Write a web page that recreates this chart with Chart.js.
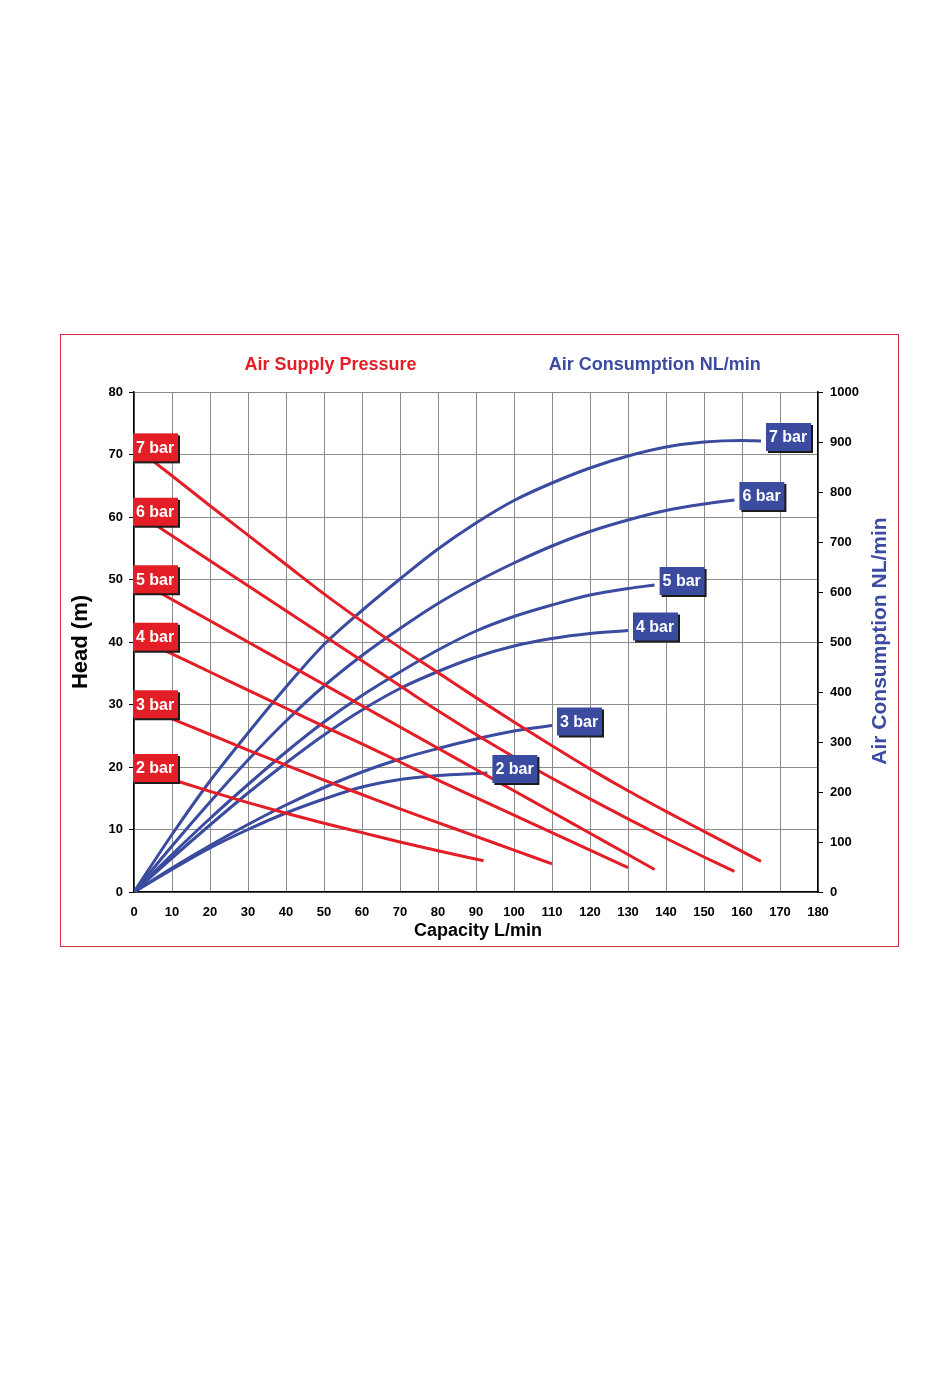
<!DOCTYPE html>
<html><head><meta charset="utf-8">
<script src="https://cdn.jsdelivr.net/npm/chart.js@4.4.1/dist/chart.umd.min.js"></script>
<style>html,body{margin:0;padding:0;background:#fff;}#wrap{position:absolute;left:0;top:0;width:950px;height:1384px;}</style>
</head><body><div id="wrap"><canvas id="c" width="950" height="1384"></canvas></div>
<script>
// ---- data ----
const pressureLabels = ['7 bar','6 bar','5 bar','4 bar','3 bar','2 bar'];
const xTickValues = [0,10,20,30,40,50,60,70,80,90,100,110,120,130,140,150,160,170,180];
const headTicks = [0,10,20,30,40,50,60,70,80];
const airTicks = [0,100,200,300,400,500,600,700,800,900,1000];

// Head (m) vs capacity (L/min)
const head7X = [0,10,20,30,40,50,60,70,80,90,100,110,120,130,140,150,160,165];
const head7  = [71.3,66.6,61.8,57.1,52.4,47.7,43.3,39.1,35.1,31.1,27.2,23.4,19.7,16.2,12.9,9.7,6.5,4.9];
const head6X = [0,10,20,30,40,50,60,70,80,90,100,110,120,130,140,150,158];
const head6  = [61.0,57.0,53.0,49.0,45.0,41.0,37.0,33.0,29.0,25.2,21.6,18.2,14.9,11.7,8.6,5.6,3.3];
const head5X = [0,10,20,30,40,50,60,70,80,90,100,110,120,130,137];
const head5  = [50.2,46.8,43.4,40.0,36.6,33.2,29.8,26.4,23.0,19.6,16.2,12.8,9.4,6.0,3.6];
const head4X = [0,10,20,30,40,50,60,70,80,90,100,110,120,130];
const head4  = [41.0,38.1,35.2,32.3,29.4,26.5,23.7,20.8,17.9,15.1,12.3,9.5,6.7,3.9];
const head3X = [0,10,20,30,40,50,60,70,80,90,100,110];
const head3  = [30.2,27.7,25.2,22.7,20.3,17.9,15.6,13.3,11.1,8.9,6.7,4.5];
const head2X = [0,10,20,30,40,50,60,70,80,92];
const head2  = [20.0,18.0,16.1,14.3,12.6,11.0,9.5,8.0,6.6,5.0];

// Air consumption (NL/min) vs capacity (L/min)
const air7X = [0,10,20,30,40,50,60,70,80,90,100,110,120,130,140,150,160,165];
const air7  = [0,115,222,318,410,495,563,626,686,738,783,818,848,872,890,900,903,902];
const air6X = [0,10,20,30,40,50,60,70,80,90,100,110,120,130,140,150,158];
const air6  = [0,92,180,264,342,412,473,527,577,620,658,692,721,744,763,776,784];
const air5X = [0,10,20,30,40,50,60,70,80,90,100,110,120,130,137];
const air5  = [0,75,147,215,280,340,393,440,484,522,551,574,594,607,614];
const air4X = [0,10,20,30,40,50,60,70,80,90,100,110,120,130];
const air4  = [0,68,134,198,258,314,364,407,441,470,492,507,517,523];
const air3X = [0,10,20,30,40,50,60,70,80,90,100,110];
const air3  = [0,48,93,135,174,209,240,266,287,306,322,333];
const air2X = [0,10,20,30,40,50,60,70,80,90,93];
const air2  = [0,45,88,125,158,186,210,225,233,237,238];

// ---- styling ----
const RED = '#e31e26', BLUE = '#3b4b9f', GRID = '#8c8c8c';
const FONT = '"Liberation Sans", Arial, Helvetica, sans-serif';

const pts = (xs, ys) => xs.map((x, i) => ({x: x, y: ys[i]}));
const headSeries = [[head7X,head7],[head6X,head6],[head5X,head5],[head4X,head4],[head3X,head3],[head2X,head2]];
const airSeries = [[air7X,air7],[air6X,air6],[air5X,air5],[air4X,air4],[air3X,air3],[air2X,air2]];

const datasets = [];
headSeries.forEach((s, i) => datasets.push({
  label: 'Head ' + pressureLabels[i], kind: 'head', tag: pressureLabels[i],
  data: pts(s[0], s[1]), yAxisID: 'yL', xAxisID: 'x',
  borderColor: RED, borderWidth: 3, pointRadius: 0, fill: false,
  cubicInterpolationMode: 'monotone'
}));
airSeries.forEach((s, i) => datasets.push({
  label: 'Air ' + pressureLabels[i], kind: 'air', tag: pressureLabels[i],
  data: pts(s[0], s[1]), yAxisID: 'yR', xAxisID: 'x',
  borderColor: BLUE, borderWidth: 3, pointRadius: 0, fill: false,
  cubicInterpolationMode: 'monotone'
}));

function drawTag(ctx, x, yc, text, fill) {
  const w = 45, h = 28, y = yc - h / 2;
  ctx.fillStyle = '#1b1b1b';
  ctx.fillRect(x + 2, y + 2, w, h);
  ctx.fillStyle = fill;
  ctx.fillRect(x, y, w, h);
  ctx.fillStyle = '#ffffff';
  ctx.font = 'bold 16px ' + FONT;
  ctx.textAlign = 'left';
  ctx.textBaseline = 'middle';
  ctx.fillText(text, x + 3, yc + 1);
}

const decor = {
  id: 'decor',
  beforeDraw(chart) {
    const ctx = chart.ctx;
    ctx.save();
    ctx.fillStyle = '#fff';
    ctx.fillRect(0, 0, chart.width, chart.height);
    ctx.strokeStyle = '#d2343c';
    ctx.lineWidth = 1;
    ctx.strokeRect(60.5, 334.5, 838, 612);
    ctx.restore();
  },
  afterDatasetsDraw(chart) {
    const ctx = chart.ctx;
    ctx.save();
    chart.data.datasets.forEach((ds, i) => {
      const meta = chart.getDatasetMeta(i);
      if (ds.kind === 'head') {
        const p = meta.data[0];
        drawTag(ctx, p.x - 1, p.y + 1, ds.tag, RED);
      } else {
        const p = meta.data[meta.data.length - 1];
        drawTag(ctx, p.x + 5, p.y - 4, ds.tag, BLUE);
      }
    });
    ctx.restore();
  },
  afterDraw(chart) {
    const ctx = chart.ctx;
    const a = chart.chartArea;
    ctx.save();
    ctx.textAlign = 'center';
    ctx.textBaseline = 'middle';
    ctx.font = 'bold 18px ' + FONT;
    ctx.fillStyle = RED;
    ctx.fillText('Air Supply Pressure', 330.5, a.top - 27);
    ctx.fillStyle = BLUE;
    ctx.fillText('Air Consumption NL/min', 654.7, a.top - 27);
    ctx.fillStyle = '#000';
    ctx.fillText('Capacity L/min', (a.left + a.right) / 2 + 2, a.bottom + 39);
    ctx.save();
    ctx.translate(81, (a.top + a.bottom) / 2);
    ctx.rotate(-Math.PI / 2);
    ctx.font = 'bold 22px ' + FONT;
    ctx.fillStyle = '#000';
    ctx.fillText('Head (m)', 0, 0);
    ctx.restore();
    ctx.save();
    ctx.translate(880, (a.top + a.bottom) / 2 - 1);
    ctx.rotate(-Math.PI / 2);
    ctx.font = 'bold 21px ' + FONT;
    ctx.fillStyle = BLUE;
    ctx.fillText('Air Consumption NL/min', 0, 0);
    ctx.restore();
    ctx.restore();
  }
};

const tickFont = {family: FONT, weight: 'bold', size: 13};
const plain = v => String(v);

new Chart(document.getElementById('c'), {
  type: 'line',
  data: {datasets: datasets},
  options: {
    responsive: false,
    animation: false,
    events: [],
    layout: {padding: {left: 60, right: 52, top: 392, bottom: 432}},
    plugins: {legend: {display: false}, tooltip: {enabled: false}},
    scales: {
      x: {
        type: 'linear', position: 'bottom', min: 0, max: 180,
        afterBuildTicks: s => { s.ticks = xTickValues.map(v => ({value: v})); },
        ticks: {color: '#000', font: tickFont, padding: 13, maxRotation: 0, autoSkip: false, callback: plain},
        grid: {color: GRID, lineWidth: 1, drawTicks: false},
        border: {color: '#000', width: 1.5},
        afterFit: s => { s.height = 60; }
      },
      yL: {
        type: 'linear', position: 'left', min: 0, max: 80,
        afterBuildTicks: s => { s.ticks = headTicks.map(v => ({value: v})); },
        ticks: {color: '#000', font: tickFont, padding: 6, callback: plain},
        grid: {color: GRID, lineWidth: 1, tickColor: '#000', tickLength: 5},
        border: {color: '#000', width: 1.5},
        afterFit: s => { s.width = 74; }
      },
      yR: {
        type: 'linear', position: 'right', min: 0, max: 1000,
        afterBuildTicks: s => { s.ticks = airTicks.map(v => ({value: v})); },
        ticks: {color: '#000', font: tickFont, padding: 7, callback: plain},
        grid: {drawOnChartArea: false, tickColor: '#000', tickLength: 5},
        border: {color: '#000', width: 1.5},
        afterFit: s => { s.width = 80; }
      }
    }
  },
  plugins: [decor]
});
</script>
</body></html>
